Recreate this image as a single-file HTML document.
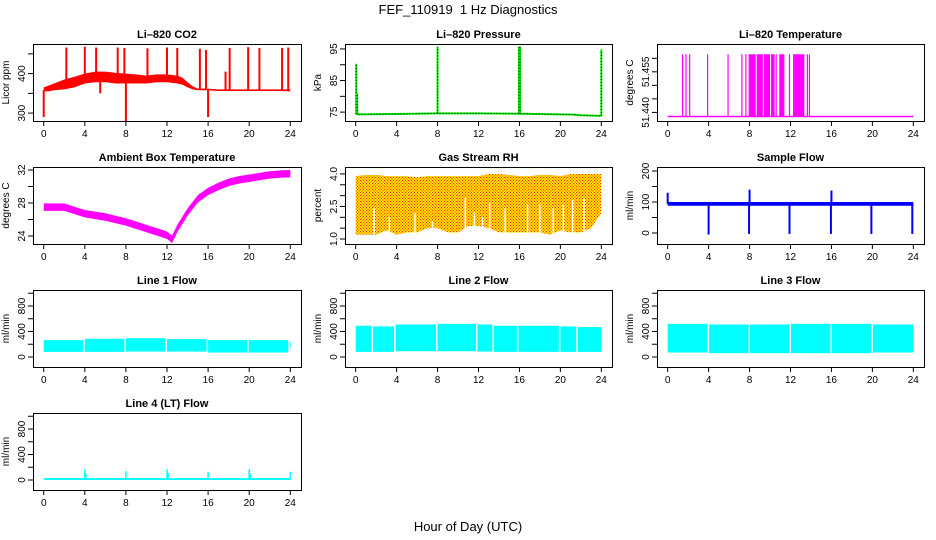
<!DOCTYPE html>
<html><head><meta charset="utf-8"><style>
html,body{margin:0;padding:0;background:#fff;}
svg{display:block;font-family:"Liberation Sans",Arial,sans-serif;}
</style></head><body>
<svg id="chart" width="936" height="540" viewBox="0 0 936 540" xmlns="http://www.w3.org/2000/svg">
<defs>
<pattern id="rhpat" width="3" height="3" patternUnits="userSpaceOnUse">
<rect width="3" height="3" fill="#ffe000"/><rect x="0" y="0" width="1" height="1" fill="#ff2000"/><rect x="1.5" y="1.5" width="1" height="1" fill="#ff2000"/>
</pattern>
</defs>
<text x="468" y="14" text-anchor="middle" font-size="13" style="white-space:pre">FEF_110919  1 Hz Diagnostics</text>
<text x="468" y="531" text-anchor="middle" font-size="13">Hour of Day (UTC)</text>
</svg>
<script>
// ---------- data ----------
const xTicks = [0,4,8,12,16,20,24];
// CO2
const co2Hours = [0,0.5,1,2,3,4,5,6,7,8,9,10,11,12,13,13.5,14,14.5,15,16,17,18,19,20,21,22,23,24];
const co2Lo = [355,355,358,360,365,375,378,378,375,375,375,375,378,378,375,372,365,360,358,358,356,356,356,356,356,356,356,355];
const co2Hi = [365,370,375,385,392,400,405,405,402,400,398,395,398,398,395,390,378,368,362,362,360,360,360,360,360,360,360,360];
const co2SpikeHours = [2.2,4.0,5.1,7.2,7.85,10.1,12.0,13.0,15.2,15.8,17.7,18.1,19.9,21.0,23.2,23.8,0.0,8.0,16.0,5.5];
const co2SpikeVals = [466,468,466,466,465,464,466,465,463,460,405,465,467,465,465,466,290,280,290,350];
// Pressure
const presHours = [0,0.2,4,8,12,16,20,21.3,22,24];
const presVals = [74.5,74.3,74.4,74.6,74.6,74.5,74.3,74.2,74.0,73.8];
const presSpikeHours = [0.05,0.15,8.0,15.95,16.05,24.0];
const presSpikeVals = [90.3,81,95.7,95.7,95.7,94.8];
// Li-820 temperature
const ltBase = 51.4385;
const ltTop = 51.4615;
const ltSpikeHours = [1.46,1.79,2.15,3.9,5.9,7.25,7.64,7.97,10.6,11.9,13.65,13.85];
const ltDenseStart = [8.0,8.7,9.4,10.1,10.9,12.25];
const ltDenseEnd = [8.6,9.3,10.0,10.45,11.4,13.35];
// Ambient box temperature
const ambHours = [0,1,2,3,4,5,6,7,8,9,10,11,12,12.5,13,14,15,16,17,18,19,20,21,22,23,24];
const ambVals = [27.5,27.5,27.5,27.1,26.7,26.5,26.3,26.0,25.7,25.3,24.9,24.5,24.1,23.6,24.9,26.9,28.5,29.4,30.0,30.5,30.8,31.0,31.2,31.4,31.5,31.55];
// Gas stream RH
const rhHours = [0,1,2,3,4,5,6,7,8,9,10,11,12,13,14,15,16,17,18,19,20,21,22,23,24];
const rhTop = [3.9,3.95,3.95,3.9,3.9,3.9,3.85,3.9,3.9,3.9,3.9,3.9,3.9,4.0,4.0,3.95,3.9,3.9,3.95,3.95,3.9,4.0,4.0,4.0,4.0];
const rhBottom = [1.2,1.2,1.2,1.4,1.2,1.3,1.3,1.5,1.5,1.3,1.3,1.6,1.6,1.5,1.3,1.3,1.3,1.3,1.3,1.2,1.4,1.3,1.3,1.5,2.2];
const rhNotchHours = [1.8,3.3,5.8,7.5,10.7,11.6,12.4,13.1,14.6,16.8,18.0,19.3,20.3,21.2,22.3];
const rhNotchVals = [2.4,2.0,2.2,1.8,2.9,2.2,2.0,2.7,2.4,2.6,2.6,2.4,2.6,2.8,2.9];
// Sample flow
const sfLo = 88, sfHi = 100;
const sfSpikeHours = [0.0,8.0,16.0,4.0,7.95,11.9,15.95,19.9,23.9];
const sfSpikeVals = [130,140,137,-5,-3,-3,-3,-3,-3];
// Line flows
const l1Start = [0,4.0,8.0,12.0,16.0,19.95,23.95];
const l1End = [3.85,7.85,11.85,15.85,19.8,23.8,24.0];
const l1Hi = [265,285,295,280,265,265,240];
const l1Lo = [80,80,85,85,70,70,150];
const l2Start = [0,1.7,3.9,8.0,11.9,13.5,15.9,20.0,21.7];
const l2End = [1.55,3.75,7.85,11.75,13.35,15.75,19.85,21.55,24.0];
const l2Hi = [490,480,510,520,510,490,490,480,470];
const l2Lo = [80,80,90,90,85,80,80,80,80];
const l3Start = [0,4.05,8.05,12.05,16.05,20.05];
const l3End = [3.9,7.9,11.9,15.9,19.9,24.0];
const l3Hi = [520,510,510,520,520,510];
const l3Lo = [70,60,60,60,60,70];
const l4Base = [0,30];
const l4SpikeHours = [4.0,4.1,8.0,12.0,12.1,16.0,20.0,20.1,24.0];
const l4SpikeVals = [170,100,140,170,110,130,170,100,130];

// ---------- helpers ----------
const NS = "http://www.w3.org/2000/svg";
const svg = document.getElementById('chart');
const colL = [33,345,657], colR = [301,612,924];
const rowT = [44,167,290,413], PH = 77;
function mk(tag, attrs, parent){
  const e = document.createElementNS(NS, tag);
  for (const k in attrs) e.setAttribute(k, attrs[k]);
  (parent||svg).appendChild(e);
  return e;
}
function panel(name, c, r, ymin, ymax, yt, yl, title, ylab){
  const l = colL[c], rr = colR[c], t = rowT[r], b = t + PH;
  const g = mk('g', {});
  
  
  const w = rr - l, x0 = l + 0.04*w, x1 = rr - 0.04*w;
  const X = h => x0 + (h/24)*(x1 - x0);
  const Y = v => b - (v - ymin)/(ymax - ymin)*(b - t);
  const plot = mk('g', {}, g);
  
  
  const cl = mk('clipPath', {id: 'clip-' + name}, g);
  mk('rect', {x: l, y: t, width: w, height: PH}, cl);
  plot.setAttribute('clip-path', 'url(#clip-' + name + ')');
  const ax = mk('g', {stroke: '#000', 'stroke-width': 1, fill: 'none'}, g);
  
  
  mk('rect', {x: l + .5, y: t + .5, width: w, height: PH}, ax);
  mk('line', {x1: X(0), x2: X(24), y1: b + .5, y2: b + .5}, ax);
  xTicks.forEach(h => {
    mk('line', {x1: X(h), x2: X(h), y1: b, y2: b + 5}, ax);
    const tx = mk('text', {x: X(h), y: b + 16, 'text-anchor': 'middle', 'font-size': 10, fill: '#000', stroke: 'none'}, g);
    
    
    tx.textContent = h;
  });
  mk('line', {x1: l + .5, x2: l + .5, y1: Y(yt[0]), y2: Y(yt[yt.length-1])}, ax);
  yt.forEach(v => mk('line', {x1: l - 5, x2: l, y1: Y(v), y2: Y(v)}, ax));
  yl.forEach(v => {
    const tx = mk('text', {transform: `translate(${l - 8},${Y(v)}) rotate(-90)`, 'text-anchor': 'middle', 'font-size': 10, fill: '#000'}, g);
    
    
    tx.textContent = (v > 51 && v < 52) ? v.toFixed(3) : (ymax < 5 ? v.toFixed(1) : v);
  });
  const tt = mk('text', {x: (l + rr)/2, y: t - 6, 'text-anchor': 'middle', 'font-size': 11, 'font-weight': 'bold'}, g);
  
  
  tt.textContent = title;
  const yy = mk('text', {transform: `translate(${l - 24},${(t + b)/2}) rotate(-90)`, 'text-anchor': 'middle', 'font-size': 10}, g);
  
  
  yy.textContent = ylab;
  return {X, Y, g: plot};
}
function band(p, hours, lo, hi, fill, nm){
  let d = '';
  hours.forEach((h,i) => d += (i ? 'L' : 'M') + p.X(h) + ',' + p.Y(hi[i]));
  for (let i = hours.length - 1; i >= 0; i--) d += 'L' + p.X(hours[i]) + ',' + p.Y(lo[i]);
  const e = mk('path', {d: d + 'Z', fill: fill}, p.g);
  
  
  return e;
}
function vline(p, h, v0, v1, color, w, nm){
  const e = mk('line', {x1: p.X(h), x2: p.X(h), y1: p.Y(v0), y2: p.Y(v1), stroke: color, 'stroke-width': w}, p.g);
  
  
  return e;
}
function segs(p, starts, ends, lo, hi, color, nm){
  starts.forEach((s,i) => {
    const e = mk('rect', {x: p.X(s), y: p.Y(hi[i]), width: Math.max(1, p.X(ends[i]) - p.X(s)), height: p.Y(lo[i]) - p.Y(hi[i]), fill: color}, p.g);
    
    
  });
}
function interp(hs, vs, h){
  for (let i = 1; i < hs.length; i++) if (h <= hs[i]) { const f = (h - hs[i-1])/(hs[i]-hs[i-1]); return vs[i-1] + f*(vs[i]-vs[i-1]); }
  return vs[vs.length-1];
}

// ---------- CO2 ----------
let p = panel('co2', 0, 0, 280, 475, [300,350,400,450], [300,400], 'Li\u2013820 CO2', 'Licor ppm');
band(p, co2Hours, co2Lo, co2Hi, '#ff0000', 'co2-band');
co2SpikeHours.forEach((h,i) => vline(p, h, interp(co2Hours, co2Lo, h) + 3, co2SpikeVals[i], '#ff0000', 2, 'co2-spike'));

// ---------- Pressure ----------
p = panel('pressure', 1, 0, 72.19, 96.56, [75,80,85,90,95], [75,85,95], 'Li\u2013820 Pressure', 'kPa');
let pd = '';
presHours.forEach((h,i) => pd += (i ? 'L' : 'M') + p.X(h) + ',' + p.Y(presVals[i]));
let e = mk('path', {d: pd, fill: 'none', stroke: '#00ee00', 'stroke-width': 2}, p.g);


e = mk('path', {d: pd, fill: 'none', stroke: '#000', 'stroke-width': 1, 'stroke-dasharray': '1 2'}, p.g);


presSpikeHours.forEach((h,i) => {
  vline(p, h, interp(presHours, presVals, h), presSpikeVals[i], '#00ee00', 2, 'pressure-spike');
  const d = vline(p, h, interp(presHours, presVals, h), presSpikeVals[i], '#000', 1, 'pressure-spike-dots');
  d.setAttribute('stroke-dasharray', '1 2');
});

// ---------- Li-820 temperature ----------
p = panel('li-temp', 2, 0, 51.43682, 51.46529, [51.440,51.445,51.450,51.455,51.460], [51.440,51.455], 'Li\u2013820 Temperature', 'degrees C');
e = mk('line', {x1: p.X(0), x2: p.X(24), y1: p.Y(ltBase), y2: p.Y(ltBase), stroke: '#ff00ff', 'stroke-width': 1.5}, p.g);


ltSpikeHours.forEach(h => vline(p, h, ltBase, ltTop, '#ff00ff', 1.2, 'li-temp-spike'));
segs(p, ltDenseStart, ltDenseEnd, ltDenseStart.map(() => ltBase), ltDenseStart.map(() => ltTop), '#ff00ff', 'li-temp-dense');

// ---------- Ambient ----------
p = panel('ambient', 0, 1, 23.03, 32.36, [24,26,28,30,32], [24,28,32], 'Ambient Box Temperature', 'degrees C');
band(p, ambHours, ambVals.map(v => v - 0.45), ambVals.map(v => v + 0.45), '#ff00ff', 'ambient-band');

// ---------- RH ----------
p = panel('rh', 1, 1, 0.77, 4.32, [1.0,1.5,2.0,2.5,3.0,3.5,4.0], [1.0,2.5,4.0], 'Gas Stream RH', 'percent');
band(p, rhHours, rhBottom, rhTop, 'url(#rhpat)', 'rh-band');
rhNotchHours.forEach((h,i) => vline(p, h, 0.8, rhNotchVals[i], '#ffffff', 1.5, 'rh-gap'));

// ---------- Sample flow ----------
p = panel('sample-flow', 2, 1, -35.5, 213, [0,50,100,150,200], [0,100,200], 'Sample Flow', 'ml/min');
band(p, [0,24], [sfLo,sfLo], [sfHi,sfHi], '#0000ff', 'sample-flow-band');
sfSpikeHours.forEach((h,i) => vline(p, h, 94, sfSpikeVals[i], '#0000ff', 2, 'sample-flow-spike'));

// ---------- Line flows ----------
const lt = [0,200,400,600,800,1000], ll = [0,400,800];
p = panel('line1-flow', 0, 2, -157, 1051, lt, ll, 'Line 1 Flow', 'ml/min');
segs(p, l1Start, l1End, l1Lo, l1Hi, '#00ffff', 'line1-flow-band');
p = panel('line2-flow', 1, 2, -157, 1051, lt, ll, 'Line 2 Flow', 'ml/min');
segs(p, l2Start, l2End, l2Lo, l2Hi, '#00ffff', 'line2-flow-band');
p = panel('line3-flow', 2, 2, -157, 1051, lt, ll, 'Line 3 Flow', 'ml/min');
segs(p, l3Start, l3End, l3Lo, l3Hi, '#00ffff', 'line3-flow-band');
p = panel('line4-flow', 0, 3, -157, 1051, lt, ll, 'Line 4 (LT) Flow', 'ml/min');
band(p, [0,24], [l4Base[0],l4Base[0]], [l4Base[1],l4Base[1]], '#00ffff', 'line4-flow-band');
l4SpikeHours.forEach((h,i) => vline(p, h, 10, l4SpikeVals[i], '#00ffff', 1.5, 'line4-flow-spike'));
</script>
</body></html>
